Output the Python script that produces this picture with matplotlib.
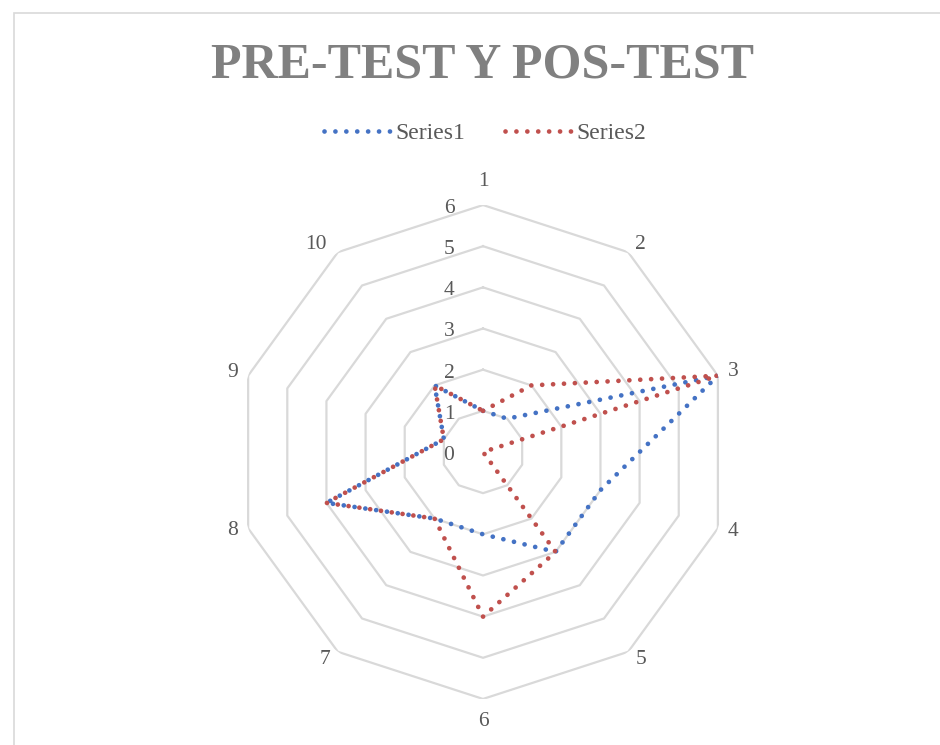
import numpy as np
import matplotlib.pyplot as plt
from matplotlib.lines import Line2D
from matplotlib.patches import Rectangle

categories = ['1', '2', '3', '4', '5', '6', '7', '8', '9', '10']
series1 = [1, 1, 6, 3, 3, 2, 2, 4, 1, 2]
series2 = [1, 2, 6, 0, 3, 4, 2, 4, 1, 2]
levels = [0, 1, 2, 3, 4, 5, 6]

blue = '#4472C4'
red = '#C0504D'
grid_c = '#D9D9D9'
txt_c = '#595959'
serif = ['Liberation Serif', 'DejaVu Serif']

n = len(categories)
theta = np.pi / 2 - np.arange(n) * 2 * np.pi / n
theta_c = np.append(theta, theta[0])

fig = plt.figure(figsize=(9.4, 7.45), dpi=100)
fig.patches.append(Rectangle((14 / 940, -0.1), 1.2, 1 - 13 / 745 + 0.1,
                             transform=fig.transFigure, fill=False,
                             edgecolor='#D9D9D9', linewidth=1.2))

ax = fig.add_axes([0.2511, 0.0618, 0.5255, 0.663], projection='polar')
ax.set_ylim(0, 6)
ax.set_xticks([])
ax.set_yticks([])
ax.grid(False)
ax.spines['polar'].set_visible(False)
ax.patch.set_alpha(0)

for lv in levels[1:]:
    ax.plot(theta_c, [lv] * (n + 1), color=grid_c, lw=1.6, zorder=1)

dots = dict(linestyle=(0, (0.01, 2.3)), dash_capstyle='round', lw=3.4)
ax.plot(theta_c, series1 + series1[:1], color=blue, zorder=3, **dots)
ax.plot(theta_c, series2 + series2[:1], color=red, zorder=4, **dots)

# label offsets from the outer vertex, in pixels (x right, y up)
offs = [(0, 24), (12, 8), (15, 4), (15, -3), (13, -8),
        (0, -23), (-13, -8), (-16, -2), (-16, 3), (-22, 8)]
for t, c, (dx, dy) in zip(theta, categories, offs):
    ax.annotate(c, xy=(t, 6), xytext=(dx * 0.72, dy * 0.72),
                textcoords='offset points', ha='center', va='center',
                fontsize=15.5, color=txt_c, family=serif)

for lv in levels:
    ax.annotate(str(lv), xy=(np.pi / 2, lv), xytext=(-24.5, -2.5),
                textcoords='offset points', ha='center', va='center',
                fontsize=15.5, color=txt_c, family=serif)

fig.text(0.5138, 1 - 65 / 745, 'PRE-TEST Y POS-TEST', ha='center',
         va='center', fontsize=36, fontweight='bold', color='#808080',
         family=serif)

handles = [Line2D([], [], color=blue, **dots),
           Line2D([], [], color=red, **dots)]
fig.legend(handles, ['Series1', 'Series2'], loc='center',
           bbox_to_anchor=(0.516, 1 - 133 / 745), ncol=2, frameon=False,
           prop=dict(family=serif, size=17), labelcolor=txt_c,
           handlelength=2.9, handletextpad=0.1, columnspacing=1.7)

fig.savefig('out.png', dpi=100)
